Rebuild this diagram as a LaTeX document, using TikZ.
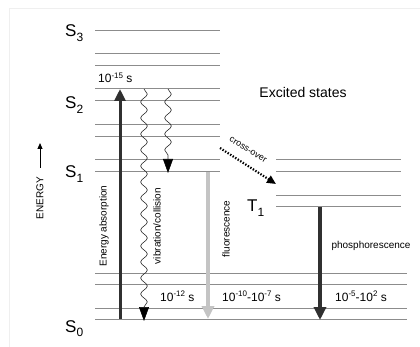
\documentclass[tikz,border=0pt]{standalone}
\usepackage{fontspec}
\setmainfont{Liberation Sans}
\usetikzlibrary{arrows.meta,decorations.pathmorphing}
\definecolor{lvl}{HTML}{8C8C8C}
\definecolor{darkc}{HTML}{303030}
\definecolor{lightc}{HTML}{C4C4C4}
\definecolor{framec}{HTML}{EFEFEF}
\newcommand{\expo}[1]{\raisebox{4.5pt}{\fontsize{8}{8}\selectfont #1}}
\newcommand{\lvlname}[2]{{\fontsize{17}{17}\selectfont #1}\raisebox{-4.5pt}{\fontsize{12}{12}\selectfont #2}}
\begin{document}
\begin{tikzpicture}[x=1pt,y=-1pt,
  level/.style={draw=lvl, line width=1pt},
  lname/.style={anchor=base west, inner sep=0pt},
  small/.style={font=\fontsize{10}{10}\selectfont, inner sep=0pt},
  timelbl/.style={anchor=base west, inner sep=0pt, font=\fontsize{12}{12}\selectfont},
  wave/.style={draw=darkc, line width=0.6pt, decorate,
    decoration={snake, amplitude=3.3pt, segment length=16pt, post length=13pt},
    -{Triangle[width=10pt,length=14pt,color=black,fill=black]}},
  bigarrow/.style={line width=3pt, draw=darkc,
    -{Triangle[width=11pt,length=12pt,color=darkc,fill=darkc]}}
]
\useasboundingbox (0,0) rectangle (420,347);
\draw[framec, line width=1pt] (9,347) -- (9,9) -- (420,9);

% levels
\foreach \y in {31,54,66,89,101,125,137,160,172} \draw[level] (95,\y) -- (220,\y);
\foreach \y in {160,172,196,207} \draw[level] (276,\y) -- (401,\y);
\foreach \y in {273,284,308,319} \draw[level] (95,\y) -- (407,\y);

% level names
\node[lname] (s3) at (65,37) {\lvlname{S}{3}};
\node[lname] (s2) at (65,109) {\lvlname{S}{2}};
\node[lname] (s1) at (65,178) {\lvlname{S}{1}};
\node[lname] (s0) at (65,332) {\lvlname{S}{0}};
\node[lname] (t1) at (247,212) {\lvlname{T}{1}};

% energy axis
\coordinate (eb) at (40,168);
\coordinate (et) at (40,143);
\draw[line width=1pt, -{Triangle[width=5pt,length=6pt]}] (eb) -- (et);
\node[small, rotate=90] (energy) at (40,198) {ENERGY};

% coordinates for transitions
\coordinate (abs0) at (120,319);
\coordinate (abs1) at (120,89);
\coordinate (w1a) at (144,89);
\coordinate (w1b) at (144,321);
\coordinate (w2a) at (168,89);
\coordinate (w2b) at (168,173);
\coordinate (fl0) at (208,172);
\coordinate (fl1) at (208,319);
\coordinate (ph0) at (320,207);
\coordinate (ph1) at (320,320);
\coordinate (c0) at (220,148);
\coordinate (c1) at (276,184);

\draw[bigarrow] (abs0) -- (abs1);
\draw[wave] (w1a) -- (w1b);
\draw[wave] (w2a) -- (w2b);
\draw[line width=4pt, draw=lightc,
  -{Triangle[width=12pt,length=13pt,color=lightc,fill=lightc]}] (fl0) -- (fl1);
\draw[line width=3.5pt, draw=darkc,
  -{Triangle[width=12pt,length=13pt,color=darkc,fill=darkc]}] (ph0) -- (ph1);
\draw[line width=2.2pt, dash pattern=on 1.4pt off 1.6pt,
  -{Triangle[width=8pt,length=9pt,color=black,fill=black]}] (c0) -- (c1);
\node[rotate=-32, font=\fontsize{9}{9}\selectfont, inner sep=0pt] (colbl) at (248,150) {cross-over};

% labels
\node[small, rotate=90] (absl) at (104,226) {Energy absorption};
\node[small, rotate=90] (vibl) at (157,226) {vibration/collision};
\node[small, rotate=90] (fll) at (226,229) {fluorescence};
\node[small] (phl) at (371,246) {phosphorescence};
\node[font=\fontsize{14}{14}\selectfont, inner sep=0pt] (exc) at (303,92) {Excited states};

\node[timelbl] (t15) at (98,83) {10\expo{-15} s};
\node[timelbl] (t12) at (160,301) {10\expo{-12} s};
\node[timelbl] (t10) at (222,301) {10\expo{-10}-10\expo{-7} s};
\node[timelbl] (t5) at (335,301) {10\expo{-5}-10\expo{2} s};
\end{tikzpicture}
\end{document}
